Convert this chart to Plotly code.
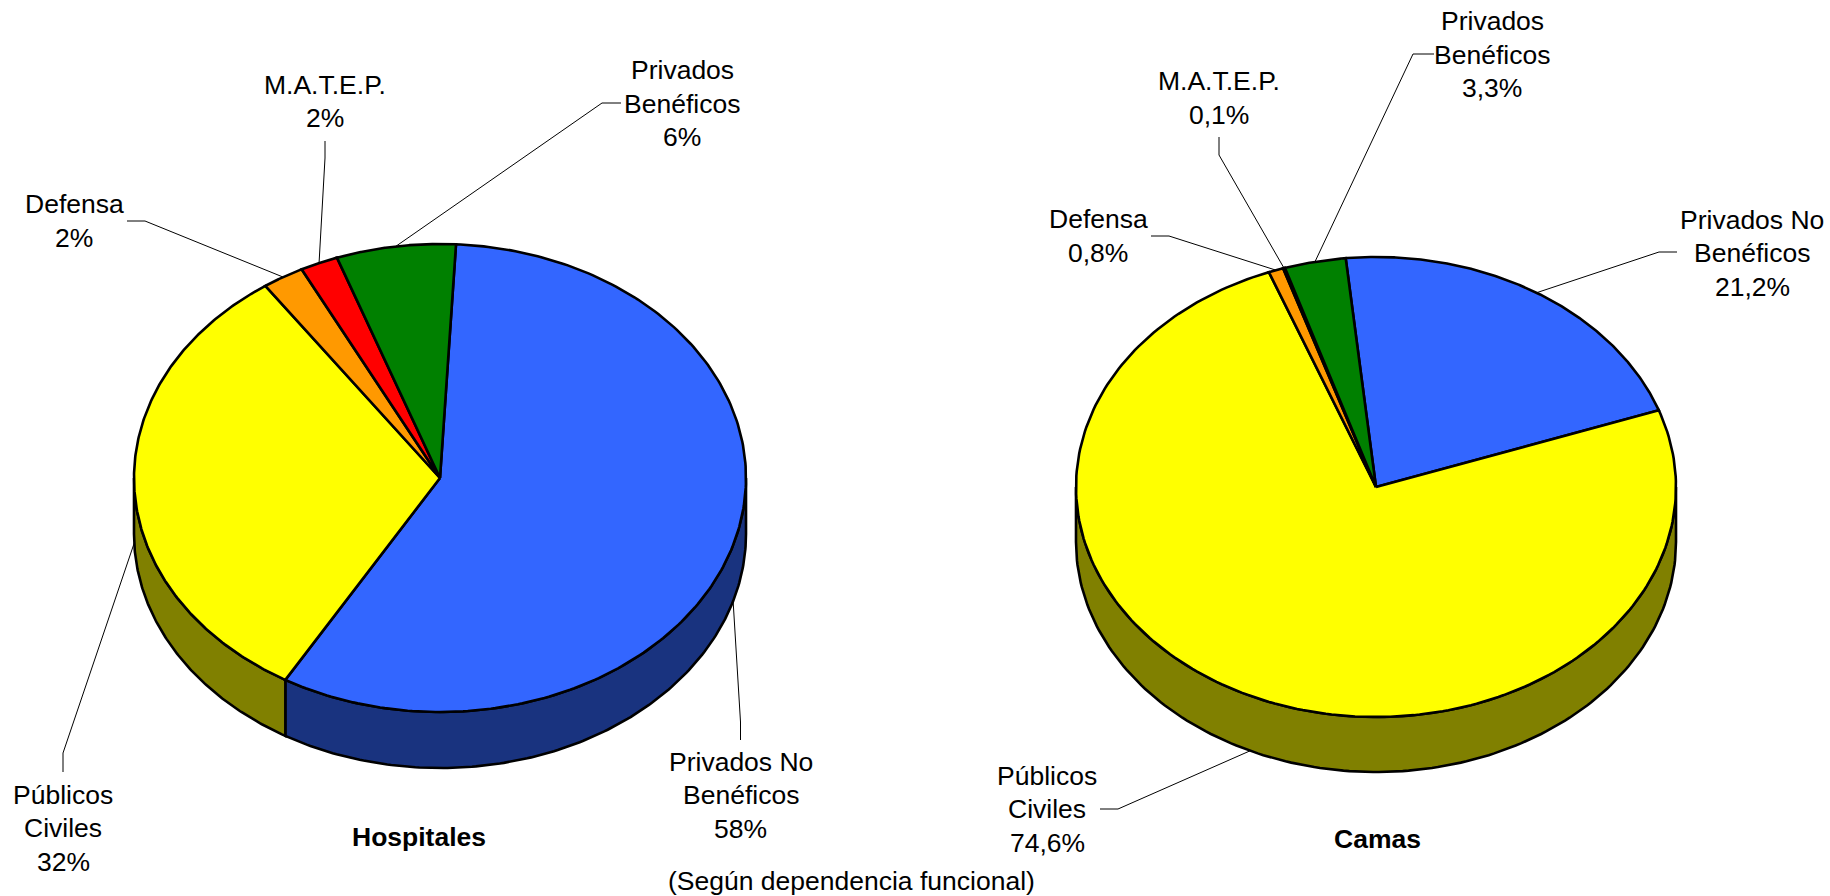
import numpy as np
import plotly.graph_objects as go

# ---------- data ----------
categories = ["Privados No<br>Benéficos", "Públicos<br>Civiles", "Defensa", "M.A.T.E.P.", "Privados<br>Benéficos"]
hospitales_values = [57.6, 31.9, 2.2, 2.0, 6.3]
hospitales_labels = ["58%", "32%", "2%", "2%", "6%"]
camas_values = [21.2, 74.6, 0.8, 0.1, 3.3]
camas_labels = ["21,2%", "74,6%", "0,8%", "0,1%", "3,3%"]
top_colors = ["#3366FF", "#FFFF00", "#FF9900", "#FF0000", "#008000"]
side_colors = ["#19337F", "#808000", "#7F4C00", "#7F0000", "#004000"]

# ---------- layout constants ----------
FONT = "Liberation Sans, Arial, sans-serif"
FONT_SIZE = 26.5
LINE_STEP = 33.5
W, H = 1830, 896
pies = [
    dict(title="Hospitales", values=hospitales_values, labels=hospitales_labels,
         cx=440, cy=478, rx=306, ry=234, depth=56, start=3.0, title_pos=(419, 837),
         label_pos=[(740.5, 795), (63, 828), (74, 221), (325, 101.5), (682, 103.5)],
         leader=[[(740.5, 740), (740.5, 722)], [(63, 772), (63, 753)], [(127, 221), (145, 221)],
                 [(325, 141), (325, 158)], [(621, 103), (602, 103)]]),
    dict(title="Camas", values=camas_values, labels=camas_labels,
         cx=1376, cy=487, rx=300, ry=230, depth=55, start=354.2, title_pos=(1377, 839),
         label_pos=[(1752, 253), (1047, 809), (1098, 236), (1219, 98), (1492, 54.5)],
         leader=[[(1677, 252), (1659, 252)], [(1100, 809), (1118, 809)], [(1151, 236), (1169, 236)],
                 [(1219, 137), (1219, 155)], [(1434, 54), (1413, 54)]]),
]
LW = 2.6


def ellipse(p, deg, dy=0.0):
    t = np.radians(deg)
    return p["cx"] + p["rx"] * np.sin(t), p["cy"] - p["ry"] * np.cos(t) + dy


def poly(xs, ys, fill):
    return go.Scatter(x=xs, y=ys, mode="lines", fill="toself", fillcolor=fill,
                      line=dict(color="black", width=LW), hoverinfo="skip", showlegend=False)


def put_text(x, y, text):
    fig.add_annotation(x=x, y=y, text=text, showarrow=False, xanchor="center", yanchor="middle",
                       font=dict(family=FONT, size=FONT_SIZE, color="black"))


fig = go.Figure()
for p in pies:
    edges = p["start"] + np.concatenate([[0], np.cumsum(p["values"])]) * 3.6
    # side walls (only the part of each slice on the front half of the rim)
    for i in range(len(p["values"])):
        for shift in (0, -360):
            a, b = max(edges[i] + shift, 90), min(edges[i + 1] + shift, 270)
            if b > a:
                arc = np.linspace(a, b, 160)
                x1, y1 = ellipse(p, arc)
                x2, y2 = ellipse(p, arc[::-1], p["depth"])
                fig.add_trace(poly(np.r_[x1, x2, x1[0]], np.r_[y1, y2, y1[0]], side_colors[i]))
    # top faces
    for i in range(len(p["values"])):
        arc = np.linspace(edges[i], edges[i + 1], 240)
        x, y = ellipse(p, arc)
        fig.add_trace(poly(np.r_[p["cx"], x, p["cx"]], np.r_[p["cy"], y, p["cy"]], top_colors[i]))
    # leader lines and labels
    for i, (cat, txt) in enumerate(zip(categories, p["labels"])):
        mid = ((edges[i] + edges[i + 1]) / 2) % 360
        ex, ey = ellipse(p, mid, p["depth"] if 90 < mid < 270 else 0)
        pts = p["leader"][i] + [(ex, ey)]
        fig.add_trace(go.Scatter(x=[q[0] for q in pts], y=[q[1] for q in pts], mode="lines",
                                 line=dict(color="black", width=1), hoverinfo="skip", showlegend=False))
        lx, ly = p["label_pos"][i]
        rows = cat.split("<br>") + [txt]
        for k, row in enumerate(rows):
            put_text(lx, ly + (k - (len(rows) - 1) / 2) * LINE_STEP, row)
    put_text(p["title_pos"][0], p["title_pos"][1], f"<b>{p['title']}</b>")

put_text(851, 880.5, "(Según dependencia funcional)")

fig.update_layout(width=W, height=H, margin=dict(l=0, r=0, t=0, b=0), paper_bgcolor="white", plot_bgcolor="white",
                  showlegend=False,
                  xaxis=dict(range=[0, W], visible=False, fixedrange=True),
                  yaxis=dict(range=[H, 0], visible=False, fixedrange=True))
fig.write_html("out.html", config=dict(displayModeBar=False),
               post_script="document.body.style.margin='0';document.documentElement.style.overflow='hidden';")
